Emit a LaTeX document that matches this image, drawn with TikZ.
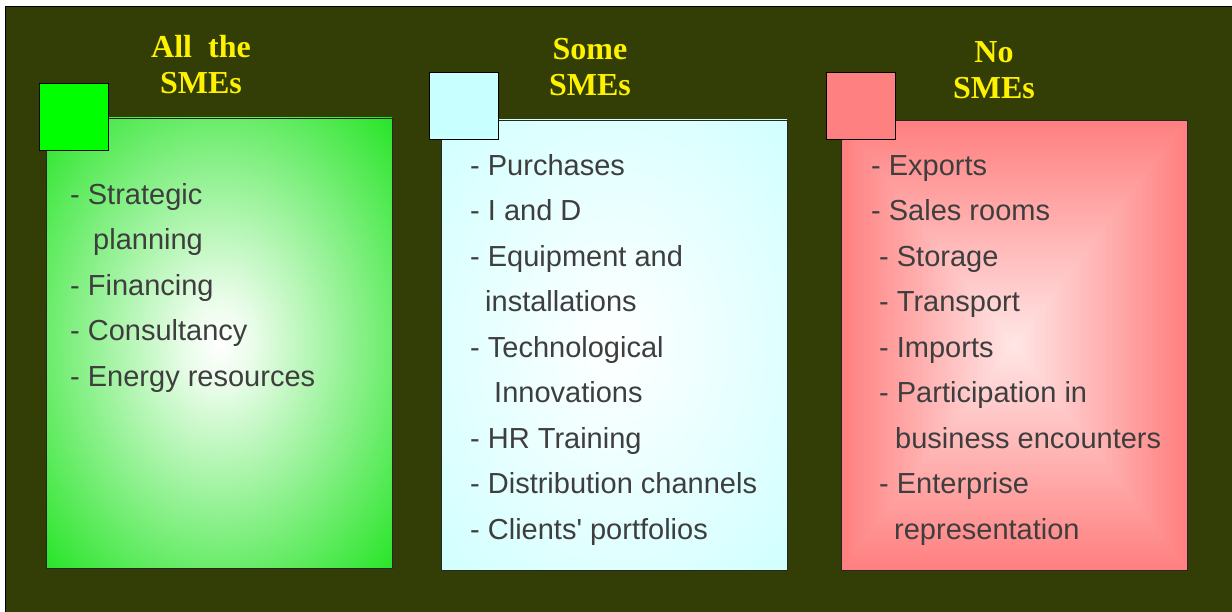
\documentclass[tikz,border=0pt]{standalone}
\usepackage{fontspec}
\setmainfont{Liberation Serif}
\newfontfamily\arial{Liberation Sans}
\usetikzlibrary{positioning}

\definecolor{olive}{RGB}{51,61,6}
\definecolor{smegreen}{RGB}{36,228,36}
\definecolor{smecyan}{RGB}{200,255,255}
\definecolor{smered}{RGB}{255,128,128}
\definecolor{ink}{RGB}{62,62,62}

\pgfdeclareradialshading{greenfade}{\pgfpoint{0bp}{0bp}}{color(0bp)=(white); color(5bp)=(white!90!smegreen); color(36bp)=(smegreen); color(50bp)=(smegreen)}
\pgfdeclareradialshading{cyanfade}{\pgfpoint{0bp}{0bp}}{color(0bp)=(white); color(42bp)=(smecyan); color(50bp)=(smecyan)}

\begin{document}
\begin{tikzpicture}[x=1pt, y=-1pt,
  box/.style={draw=black!85, line width=0.8pt, minimum width=346pt, minimum height=450pt, inner sep=0pt, outer sep=0pt},
  tag/.style={draw=black, line width=0.8pt, minimum width=69pt, minimum height=67pt, inner sep=0pt},
  head/.style={text=yellow, font=\bfseries\fontsize{32}{36}\selectfont, align=center, anchor=base, inner sep=0pt},
  list/.style={text=ink, font=\arial\fontsize{29}{45.5}\selectfont, align=left, anchor=base west, inner sep=0pt}]
	\useasboundingbox (0,0) rectangle (1232,612);
	\fill[white] (0,0) rectangle (1232,612);
	\draw[fill=olive, line width=0.8pt] (5,6) rectangle (1240,620);

	% all the SMEs
	\node[box, shade, shading=greenfade] (All) at (219,343) {};
	\node[tag, fill=green] (All_tag) at (74,116.5) {};
	\node[head] (All_title) at (201,94) {All\ \ the\\SMEs};
	\node[list] (All_list) at (70,386) {- Strategic\\\hspace*{23pt}planning\\- Financing\\- Consultancy\\- Energy resources};

	% some SMEs
	\node[box, shade, shading=cyanfade] (Some) at (614,345) {};
	\node[tag, fill=smecyan] (Some_tag) at (463.5,105.8) {};
	\node[head] (Some_title) at (590,96) {Some\\SMEs};
	\node[list] (Some_list) at (470,539) {- Purchases\\- I and D\\- Equipment and\\\hspace*{15pt}installations\\- Technological\\\hspace*{24pt}Innovations\\- HR Training\\- Distribution channels\\- Clients' portfolios};

	% no SMEs
	\foreach \k in {0,...,59} {
		\pgfmathsetmacro\w{173*(1-\k/60)}
		\pgfmathsetmacro\h{225*(1-\k/60)}
		\pgfmathsetmacro\p{100-1.35*\k}
		\fill[smered!\p!white] (1014-\w,345-\h) rectangle (1014+\w,345+\h);
	}
	\node[box] (No) at (1014,345) {};
	\node[tag, fill=smered] (No_tag) at (861,105.8) {};
	\node[head] (No_title) at (994,99) {No\\SMEs};
	\node[list] (No_list) at (871,539) {- Exports\\- Sales rooms\\\hspace*{8pt}- Storage\\\hspace*{8pt}- Transport\\\hspace*{8pt}- Imports\\\hspace*{8pt}- Participation in\\\hspace*{24pt}business encounters\\\hspace*{8pt}- Enterprise\\\hspace*{23pt}representation};
\end{tikzpicture}
\end{document}
